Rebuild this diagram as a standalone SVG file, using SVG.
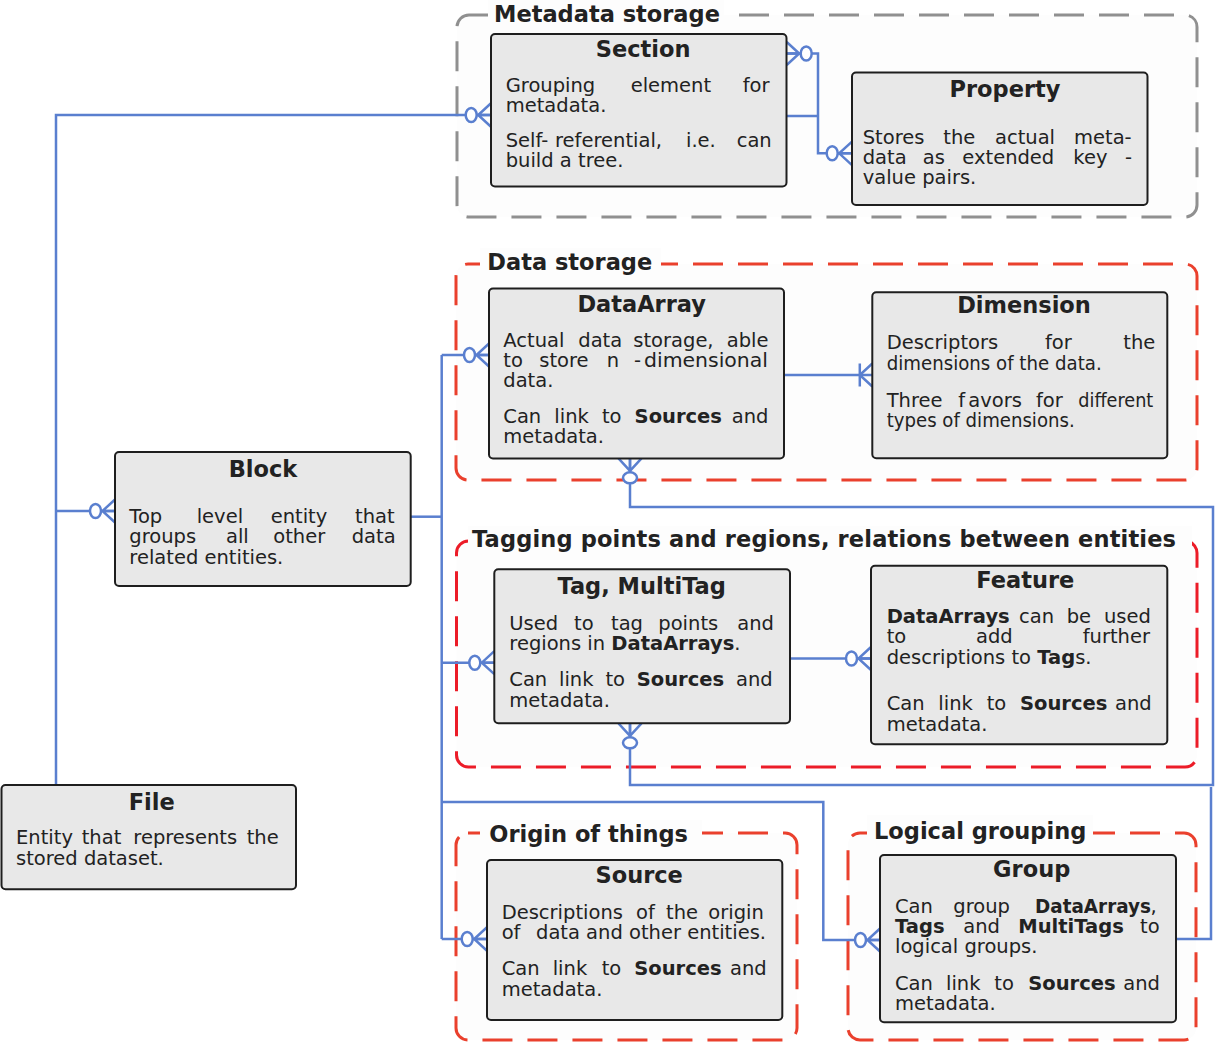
<svg xmlns="http://www.w3.org/2000/svg" xmlns:xlink="http://www.w3.org/1999/xlink" width="1215" height="1043" viewBox="0 0 1215 1043">
<style>
.cl{fill:#fdfdfd;stroke-width:3;stroke-dasharray:30 15}
.gray{stroke:#909090}
.red{stroke:#ea402d}
.red2{stroke:#ec1c28}
.tbg{fill:#fdfdfd}
.ct{font-family:"DejaVu Sans",sans-serif;font-weight:bold;font-size:22.5px;fill:#222}
.box{fill:#e8e8e8;stroke:#1e1e1e;stroke-width:2}
.h{font-family:"DejaVu Sans",sans-serif;font-weight:bold;font-size:22.5px;fill:#222;text-anchor:middle}
.t{font-family:"DejaVu Sans",sans-serif;font-size:19.5px;fill:#222}
.b{font-weight:bold}
.ln{fill:none;stroke:#5a7fcf;stroke-width:2.5}
.mk{fill:none;stroke:#5a7fcf;stroke-width:2.5}
.el{fill:#ffffff;stroke:#5a7fcf;stroke-width:2.5}
</style>
<defs>
<g id="zm"><path class="mk" d="M0,-11.5 L-12.5,0 L0,11.5 M-14,0 H0"/><ellipse class="el" cx="-19.5" cy="0" rx="5.5" ry="7"/></g>
<g id="om"><path class="mk" d="M0,-11.5 L-12.5,0 L0,11.5 M-12.5,-11.5 V11.5"/></g>
</defs>
<rect width="1215" height="1043" fill="#ffffff"/>

<g id="clusters">
<g id="cl-metadata">
<rect class="cl gray" x="457" y="15" width="740" height="202" rx="12"/>
<rect class="tbg" x="488" y="0" width="236" height="31"/>
<text class="ct" x="494" y="22">Metadata storage</text>
</g>
<g id="cl-data">
<rect class="cl red" x="456" y="264" width="741" height="216" rx="12"/>
<rect class="tbg" x="480" y="248" width="181" height="38"/>
<text class="ct" x="487.3" y="270">Data storage</text>
</g>
<g id="cl-tagging">
<rect class="cl red2" x="456.5" y="541" width="740.5" height="226" rx="12"/>
<rect class="tbg" x="468" y="526" width="724" height="27"/>
<text class="ct" x="472" y="547" textLength="704">Tagging points and regions, relations between entities</text>
</g>
<g id="cl-origin">
<rect class="cl red" x="456" y="833" width="341" height="207" rx="12"/>
<rect class="tbg" x="480" y="820" width="222" height="36"/>
<text class="ct" x="489.3" y="842">Origin of things</text>
</g>
<g id="cl-logical">
<rect class="cl red" x="848" y="833" width="348" height="207" rx="12"/>
<rect class="tbg" x="867" y="815" width="226" height="34"/>
<text class="ct" x="874" y="838.5">Logical grouping</text>
</g>
</g>

<g id="connectors">
<path class="ln" d="M56,785 V115 H490.7"/>
<path class="ln" d="M56,511 H115"/>
<path class="ln" d="M410.7,516.7 H441.7"/>
<path class="ln" d="M441.7,355 V939"/>
<path class="ln" d="M441.7,355 H489"/>
<path class="ln" d="M441.7,662.7 H494.3"/>
<path class="ln" d="M441.7,939 H486.7"/>
<path class="ln" d="M441.7,802 H823.3 V940 H880"/>
<path class="ln" d="M786.7,116 H818"/>
<path class="ln" d="M786.7,53.5 H818 V153.3 H851.7"/>
<path class="ln" d="M784,375 H872.3"/>
<path class="ln" d="M790,658.5 H871"/>
<path class="ln" d="M630,458.3 V507 H1213 V785 H630 V723.3"/>
<path class="ln" d="M1176,939 H1211 V787"/>
<use xlink:href="#zm" transform="translate(490.7,115)"/>
<use xlink:href="#zm" transform="translate(115,511)"/>
<use xlink:href="#zm" transform="translate(489,355)"/>
<use xlink:href="#zm" transform="translate(494.3,662.7)"/>
<use xlink:href="#zm" transform="translate(486.7,939)"/>
<use xlink:href="#zm" transform="translate(880,940)"/>
<use xlink:href="#zm" transform="translate(851.7,153.3)"/>
<use xlink:href="#zm" transform="translate(871,658.5)"/>
<use xlink:href="#zm" transform="translate(786.7,53.5) rotate(180)"/>
<use xlink:href="#zm" transform="translate(630,458.3) rotate(-90)"/>
<use xlink:href="#zm" transform="translate(630,723.3) rotate(-90)"/>
<use xlink:href="#om" transform="translate(872.3,375)"/>
</g>

<g id="section">
<rect class="box" x="491" y="34" width="295.5" height="152.5" rx="4"/>
<text class="h" x="643.2" y="57">Section</text>
<text class="t" y="92"><tspan x="505.7">Grouping</tspan><tspan x="630.7">element</tspan><tspan x="742.7">for</tspan></text>
<text class="t" x="505.7" y="112">metadata.</text>
<text class="t" y="147"><tspan x="505.7">Self-</tspan><tspan x="555">referential,</tspan><tspan x="686">i.e.</tspan><tspan x="736.7">can</tspan></text>
<text class="t" x="505.7" y="167">build a tree.</text>
</g>

<g id="property">
<rect class="box" x="852" y="72.5" width="295.5" height="132.5" rx="4"/>
<text class="h" x="1005" y="97">Property</text>
<text class="t" y="143.5"><tspan x="862.7">Stores</tspan><tspan x="943.3">the</tspan><tspan x="995">actual</tspan><tspan x="1074">meta-</tspan></text>
<text class="t" y="164"><tspan x="862.7">data</tspan><tspan x="922.7">as</tspan><tspan x="962.3">extended</tspan><tspan x="1073.3">key</tspan><tspan x="1125">-</tspan></text>
<text class="t" x="862.7" y="184">value pairs.</text>
</g>

<g id="dataarray">
<rect class="box" x="489" y="288.5" width="295" height="170" rx="4"/>
<text class="h" x="641.7" y="311.7">DataArray</text>
<text class="t" y="346.7"><tspan x="503.3">Actual</tspan><tspan x="578.3">data</tspan><tspan x="633.3">storage,</tspan><tspan x="726.7">able</tspan></text>
<text class="t" y="366.7"><tspan x="503.3">to</tspan><tspan x="539.3">store</tspan><tspan x="606.7">n</tspan><tspan x="634">-</tspan></text>
<text class="t" x="644" y="366.7" textLength="124" lengthAdjust="spacingAndGlyphs">dimensional</text>
<text class="t" x="503.3" y="386.7">data.</text>
<text class="t" y="423.3"><tspan x="503.3">Can</tspan><tspan x="554.3">link</tspan><tspan x="601.9">to</tspan><tspan x="634.6" class="b">Sources</tspan><tspan x="731.7">and</tspan></text>
<text class="t" x="503.3" y="443.3">metadata.</text>
</g>

<g id="dimension">
<rect class="box" x="872.3" y="292.3" width="295" height="166" rx="4"/>
<text class="h" x="1024" y="312.7">Dimension</text>
<text class="t" y="349"><tspan x="886.7">Descriptors</tspan><tspan x="1045">for</tspan><tspan x="1123.3">the</tspan></text>
<text class="t" x="886.7" y="370" textLength="215" lengthAdjust="spacingAndGlyphs">dimensions of the data.</text>
<text class="t" y="406.7"><tspan x="886.7">Three</tspan><tspan x="958.3">f</tspan><tspan x="968.3">avors</tspan><tspan x="1036">for</tspan></text>
<text class="t" x="1078.3" y="406.7" textLength="75" lengthAdjust="spacingAndGlyphs">different</text>
<text class="t" x="886.7" y="426.7" textLength="188" lengthAdjust="spacingAndGlyphs">types of dimensions.</text>
</g>

<g id="block">
<rect class="box" x="115" y="452" width="295.7" height="134" rx="4"/>
<text class="h" x="263" y="476.7">Block</text>
<text class="t" y="522.7"><tspan x="129.3">Top</tspan><tspan x="196.7">level</tspan><tspan x="270.7">entity</tspan><tspan x="355">that</tspan></text>
<text class="t" y="543.3"><tspan x="129.3">groups</tspan><tspan x="226">all</tspan><tspan x="273.3">other</tspan><tspan x="351.7">data</tspan></text>
<text class="t" x="129.3" y="564.3">related entities.</text>
</g>

<g id="file">
<rect class="box" x="1.5" y="785" width="294.5" height="104.3" rx="4"/>
<text class="h" x="151.7" y="810">File</text>
<text class="t" y="844"><tspan x="16">Entity</tspan><tspan x="81.7">that</tspan><tspan x="133.3">represents</tspan><tspan x="246.7">the</tspan></text>
<text class="t" x="16" y="865">stored dataset.</text>
</g>

<g id="tag">
<rect class="box" x="494.3" y="569.3" width="295.7" height="154" rx="4"/>
<text class="h" x="641.7" y="594">Tag, MultiTag</text>
<text class="t" y="630"><tspan x="509.3">Used</tspan><tspan x="574">to</tspan><tspan x="611">tag</tspan><tspan x="658.3">points</tspan><tspan x="737.3">and</tspan></text>
<text class="t" x="509.3" y="650">regions in <tspan class="b">DataArrays</tspan>.</text>
<text class="t" y="686"><tspan x="509.3">Can</tspan><tspan x="559">link</tspan><tspan x="605.4">to</tspan><tspan x="636.8" class="b">Sources</tspan><tspan x="736">and</tspan></text>
<text class="t" x="509.3" y="706.7">metadata.</text>
</g>

<g id="feature">
<rect class="box" x="871" y="565.7" width="296.3" height="178.6" rx="4"/>
<text class="h" x="1025.3" y="587.7">Feature</text>
<text class="t" y="623.3"><tspan x="886.7" class="b">DataArrays</tspan><tspan x="1019">can</tspan><tspan x="1066.7">be</tspan><tspan x="1104">used</tspan></text>
<text class="t" y="643.3"><tspan x="886.7">to</tspan><tspan x="976">add</tspan><tspan x="1082.7">further</tspan></text>
<text class="t" x="886.7" y="664">descriptions to <tspan class="b">Tag</tspan>s.</text>
<text class="t" y="710"><tspan x="886.7">Can</tspan><tspan x="938.3">link</tspan><tspan x="986.7">to</tspan><tspan x="1020" class="b">Sources</tspan><tspan x="1115">and</tspan></text>
<text class="t" x="886.7" y="730.7">metadata.</text>
</g>

<g id="source">
<rect class="box" x="487" y="860" width="295.3" height="160" rx="4"/>
<text class="h" x="639.2" y="883.3">Source</text>
<text class="t" y="919.3"><tspan x="501.7">Descriptions</tspan><tspan x="636">of</tspan><tspan x="666">the</tspan><tspan x="708.3">origin</tspan></text>
<text class="t" y="939.3"><tspan x="501.7">of</tspan><tspan x="536">data and other entities.</tspan></text>
<text class="t" y="975"><tspan x="501.7">Can</tspan><tspan x="552.7">link</tspan><tspan x="601.7">to</tspan><tspan x="634.3" class="b">Sources</tspan><tspan x="730">and</tspan></text>
<text class="t" x="501.7" y="995.7">metadata.</text>
</g>

<g id="group">
<rect class="box" x="880" y="855" width="296" height="167.3" rx="4"/>
<text class="h" x="1031.7" y="877.3">Group</text>
<text class="t" y="912.7"><tspan x="895">Can</tspan><tspan x="953.3">group</tspan></text>
<text class="t b" x="1035" y="912.7" textLength="116" lengthAdjust="spacingAndGlyphs">DataArrays</text>
<text class="t" x="1150.5" y="912.7">,</text>
<text class="t" y="933.3"><tspan x="895" class="b">Tags</tspan><tspan x="963.3">and</tspan><tspan x="1018.3" class="b">MultiTags</tspan><tspan x="1140">to</tspan></text>
<text class="t" x="895" y="953.3">logical groups.</text>
<text class="t" y="990"><tspan x="895">Can</tspan><tspan x="946">link</tspan><tspan x="994.3">to</tspan><tspan x="1028.3" class="b">Sources</tspan><tspan x="1123.3">and</tspan></text>
<text class="t" x="895" y="1010">metadata.</text>
</g>
</svg>
